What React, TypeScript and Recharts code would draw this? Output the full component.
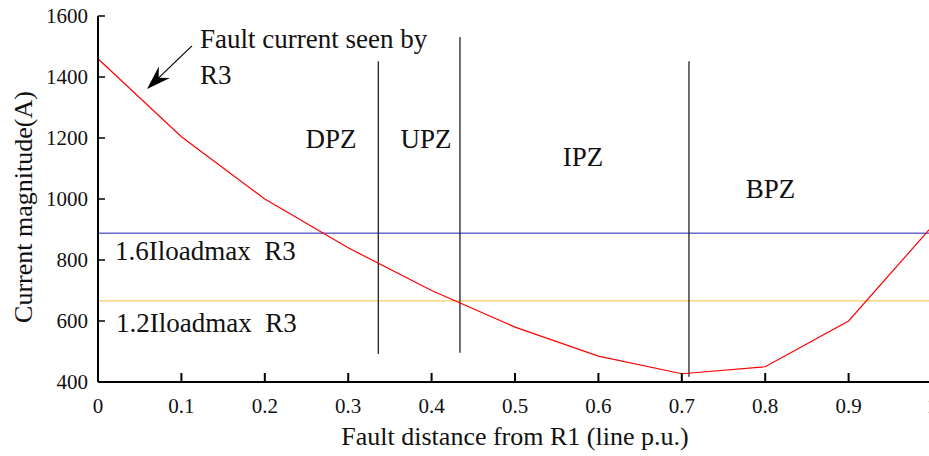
import { LineChart, Line, XAxis, YAxis, ReferenceLine, ReferenceDot, Label } from 'recharts';

const FONT = '"Liberation Serif", "Times New Roman", serif';

// fault current seen by R3 along the line
const distance = [0, 0.1, 0.2, 0.3, 0.4, 0.5, 0.6, 0.7, 0.8, 0.9, 1];
const current = [1460, 1204, 1000, 840, 700, 580, 485, 427, 450, 600, 910];

const xTicks = [0, 0.1, 0.2, 0.3, 0.4, 0.5, 0.6, 0.7, 0.8, 0.9, 1];
const yTicks = [400, 600, 800, 1000, 1200, 1400, 1600];

// pickup thresholds
const loadLevels = [888, 666];
const loadColors = ['#1a1ab4', '#f0c23a'];
const loadLabels = ['1.6Iloadmax\u00A0 R3', '1.2Iloadmax\u00A0 R3'];
const loadLabelX = [0.0204, 0.0216];
const loadLabelY = [830, 595];

// zone boundaries
const zoneBoundaries = [0.3361, 0.434, 0.7086];
const zoneTops = [1452, 1531, 1452];
const zoneBottoms = [492, 496, 417];
const zoneNames = ['DPZ', 'UPZ', 'IPZ', 'BPZ'];
const zoneLabelX = [0.2794, 0.3933, 0.5815, 0.8064];
const zoneLabelY = [1200, 1200, 1138, 1034];

// annotation
const noteLines = ['Fault current seen by', 'R3'];
const noteX = 0.1223;
const noteY = [1526, 1407];
const arrowFrom = { x: 0.1127, y: 1502 };
const arrowTo = { x: 0.0588, y: 1361 };

const rows = distance.map((d, i) => ({ x: d, current: current[i] }));

const serif = { fontFamily: FONT };

const BottomTick = (props: any) => {
  const { x, y, payload } = props;
  return (
    <g>
      <line x1={x} y1={y} x2={x} y2={y - 9} stroke="#000" strokeWidth={2} />
      <text x={x} y={y + 31} textAnchor="middle" fontSize={21} style={serif} fill="#111">
        {String(payload.value)}
      </text>
    </g>
  );
};

const LeftTick = (props: any) => {
  const { x, y, payload } = props;
  return (
    <g>
      <line x1={x} y1={y} x2={x + 7} y2={y} stroke="#000" strokeWidth={1.5} />
      <text x={x - 10} y={y + 7} textAnchor="end" fontSize={21} style={serif} fill="#111">
        {String(payload.value)}
      </text>
    </g>
  );
};

const TopTick = (props: any) => (
  <line x1={props.x} y1={props.y} x2={props.x} y2={props.y + 8} stroke="#000" strokeWidth={2} />
);

const RightTick = (props: any) => (
  <line x1={props.x} y1={props.y} x2={props.x - 6} y2={props.y} stroke="#000" strokeWidth={1.5} />
);

const XTitle = (props: any) => {
  const vb = props.viewBox;
  return (
    <text x={vb.x + vb.width / 2} y={vb.y + 63} textAnchor="middle" fontSize={26} style={serif} fill="#111">
      Fault distance from R1 (line p.u.)
    </text>
  );
};

const YTitle = (props: any) => {
  const vb = props.viewBox;
  const cx = vb.x + 23;
  const cy = vb.y + vb.height / 2 + 8;
  return (
    <text
      x={cx}
      y={cy}
      dy="0.35em"
      transform={`rotate(-90, ${cx}, ${cy})`}
      textAnchor="middle"
      fontSize={26}
      style={serif}
      fill="#111"
    >
      Current magnitude(A)
    </text>
  );
};

const Arrow = (p: any) => {
  const { x1, y1, x2, y2 } = p;
  const a = Math.atan2(y2 - y1, x2 - x1);
  const ux = Math.cos(a);
  const uy = Math.sin(a);
  const len = 24;
  const half = 8;
  const notch = 16;
  const bx = x2 - ux * len;
  const by = y2 - uy * len;
  const nx = x2 - ux * notch;
  const ny = y2 - uy * notch;
  const pts = [
    [x2, y2],
    [bx - uy * half, by + ux * half],
    [nx, ny],
    [bx + uy * half, by - ux * half],
  ]
    .map((q) => q.join(','))
    .join(' ');
  return (
    <g>
      <line x1={x1} y1={y1} x2={nx} y2={ny} stroke="#000" strokeWidth={1.2} />
      <polygon points={pts} fill="#000" />
    </g>
  );
};

const textStyle = { fontSize: 27, fill: '#111', fontFamily: FONT };

export default function App() {
  return (
    <div style={{ position: 'absolute', left: 0, top: 0, width: 929, height: 456, overflow: 'hidden', background: '#fff' }}>
      <LineChart width={932} height={456} data={rows} margin={{ top: 16, right: 0, bottom: 0, left: 0 }}>
        <XAxis
          dataKey="x"
          type="number"
          domain={[0, 1]}
          ticks={xTicks}
          interval={0}
          tickSize={0}
          tickMargin={0}
          tick={BottomTick}
          axisLine={{ stroke: '#000', strokeWidth: 2 }}
          height={74}
        >
          <Label content={XTitle} />
        </XAxis>
        <XAxis
          xAxisId="top"
          orientation="top"
          dataKey="x"
          type="number"
          domain={[0, 1]}
          ticks={xTicks}
          interval={0}
          tickSize={0}
          tickMargin={0}
          tick={TopTick}
          axisLine={{ stroke: '#000', strokeWidth: 2 }}
          height={0}
        />
        <YAxis
          type="number"
          domain={[400, 1600]}
          ticks={yTicks}
          interval={0}
          tickSize={0}
          tickMargin={0}
          tick={LeftTick}
          axisLine={{ stroke: '#000', strokeWidth: 2 }}
          width={98}
        >
          <Label content={YTitle} />
        </YAxis>
        <YAxis
          yAxisId="right"
          orientation="right"
          type="number"
          domain={[400, 1600]}
          ticks={yTicks}
          interval={0}
          tickSize={0}
          tickMargin={0}
          tick={RightTick}
          axisLine={{ stroke: '#000', strokeWidth: 2 }}
          width={0}
        />

        {loadLevels.map((v, i) => (
          <ReferenceLine key={`load-${i}`} y={v} stroke={loadColors[i]} strokeWidth={1} />
        ))}
        {loadLabels.map((t, i) => (
          <ReferenceDot
            key={`loadlabel-${i}`}
            x={loadLabelX[i]}
            y={loadLabelY[i]}
            r={0}
            fill="none"
            stroke="none"
            label={{ value: t, position: 'right', offset: 0, ...textStyle }}
          />
        ))}

        {zoneBoundaries.map((b, i) => (
          <ReferenceLine
            key={`zone-${i}`}
            segment={[
              { x: b, y: zoneTops[i] },
              { x: b, y: zoneBottoms[i] },
            ]}
            stroke="#222"
            strokeWidth={1.3}
          />
        ))}
        {zoneNames.map((z, i) => (
          <ReferenceDot
            key={`zonelabel-${i}`}
            x={zoneLabelX[i]}
            y={zoneLabelY[i]}
            r={0}
            fill="none"
            stroke="none"
            label={{ value: z, position: 'center', ...textStyle }}
          />
        ))}

        {noteLines.map((t, i) => (
          <ReferenceDot
            key={`note-${i}`}
            x={noteX}
            y={noteY[i]}
            r={0}
            fill="none"
            stroke="none"
            label={{ value: t, position: 'right', offset: 0, ...textStyle }}
          />
        ))}
        <ReferenceLine segment={[arrowFrom, arrowTo]} shape={Arrow} />

        <Line
          type="linear"
          dataKey="current"
          stroke="#ff0000"
          strokeWidth={1.2}
          dot={false}
          isAnimationActive={false}
        />
      </LineChart>
    </div>
  );
}
